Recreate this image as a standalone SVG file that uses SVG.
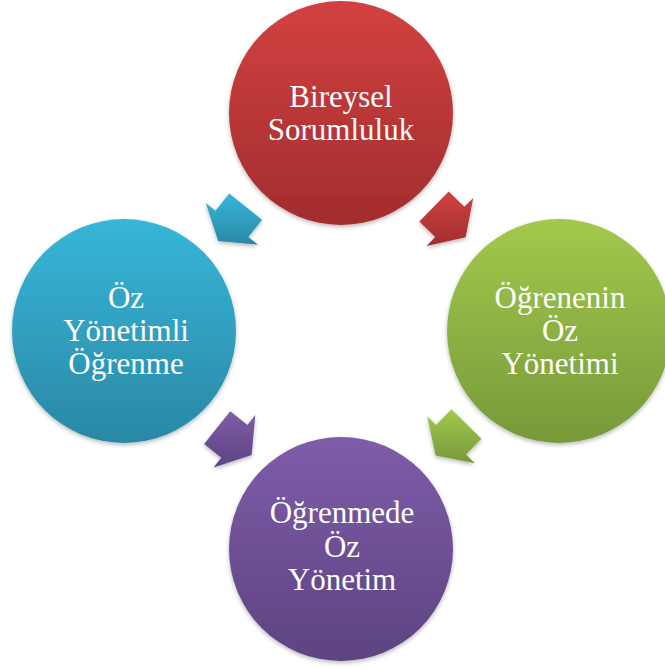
<svg xmlns="http://www.w3.org/2000/svg" width="665" height="668" viewBox="0 0 665 668">
  <style>
    .lbl { font-family: "Liberation Serif", "Times New Roman", serif; font-size: 31px; fill: #ffffff; text-anchor: middle; }
    .shape { filter: url(#sh); }
  </style>
  <defs>
    <filter id="sh" x="-20%" y="-20%" width="140%" height="140%">
      <feDropShadow dx="0" dy="2" stdDeviation="2" flood-color="#000" flood-opacity="0.28"/>
    </filter>
    <linearGradient id="gRed" x1="0" y1="0" x2="0" y2="1">
      <stop offset="0" stop-color="#d24141"/>
      <stop offset="1" stop-color="#a22d2d"/>
    </linearGradient>
    <linearGradient id="gBlue" x1="0" y1="0" x2="0" y2="1">
      <stop offset="0" stop-color="#37b6da"/>
      <stop offset="1" stop-color="#2a88a4"/>
    </linearGradient>
    <linearGradient id="gGreen" x1="0" y1="0" x2="0" y2="1">
      <stop offset="0" stop-color="#a2c94c"/>
      <stop offset="1" stop-color="#77993a"/>
    </linearGradient>
    <linearGradient id="gPurple" x1="0" y1="0" x2="0" y2="1">
      <stop offset="0" stop-color="#7f5ca9"/>
      <stop offset="1" stop-color="#5d4381"/>
    </linearGradient>
  </defs>

  <g id="connectors">
    <polygon class="shape" fill="url(#gRed)" points="448.7,191.5 464.4,206.8 473.2,197.9 465.6,237.2 426.5,245.9 435.2,237.0 419.4,221.6"/>
    <polygon class="shape" fill="url(#gGreen)" points="481.4,438.8 466.0,454.4 474.9,463.2 435.6,455.4 427.2,416.2 436.1,425.0 451.5,409.3"/>
    <polygon class="shape" fill="url(#gBlue)" points="262.1,219.7 248.3,236.9 258.1,244.7 218.2,241.0 205.7,202.9 215.5,210.7 229.2,193.5"/>
    <polygon class="shape" fill="url(#gPurple)" points="230.3,411.2 247.5,424.9 255.3,415.1 251.6,455.0 213.5,467.5 221.3,457.7 204.1,444.0"/>
  </g>

  <g id="node-bireysel">
    <circle class="shape" cx="341" cy="113" r="112" fill="url(#gRed)"/>
    <text class="lbl" x="341" y="107">Bireysel</text>
    <text class="lbl" x="341" y="140">Sorumluluk</text>
  </g>

  <g id="node-ogrenenin">
    <circle class="shape" cx="559" cy="331" r="112" fill="url(#gGreen)"/>
    <text class="lbl" x="560" y="308">Öğrenenin</text>
    <text class="lbl" x="560" y="341">Öz</text>
    <text class="lbl" x="560" y="374">Yönetimi</text>
  </g>

  <g id="node-ogrenmede">
    <circle class="shape" cx="341" cy="549" r="112" fill="url(#gPurple)"/>
    <text class="lbl" x="342" y="523">Öğrenmede</text>
    <text class="lbl" x="342" y="557">Öz</text>
    <text class="lbl" x="342" y="590">Yönetim</text>
  </g>

  <g id="node-oz-yonetimli">
    <circle class="shape" cx="124" cy="331" r="112" fill="url(#gBlue)"/>
    <text class="lbl" x="126" y="308">Öz</text>
    <text class="lbl" x="126" y="341">Yönetimli</text>
    <text class="lbl" x="126" y="374">Öğrenme</text>
  </g>
</svg>
